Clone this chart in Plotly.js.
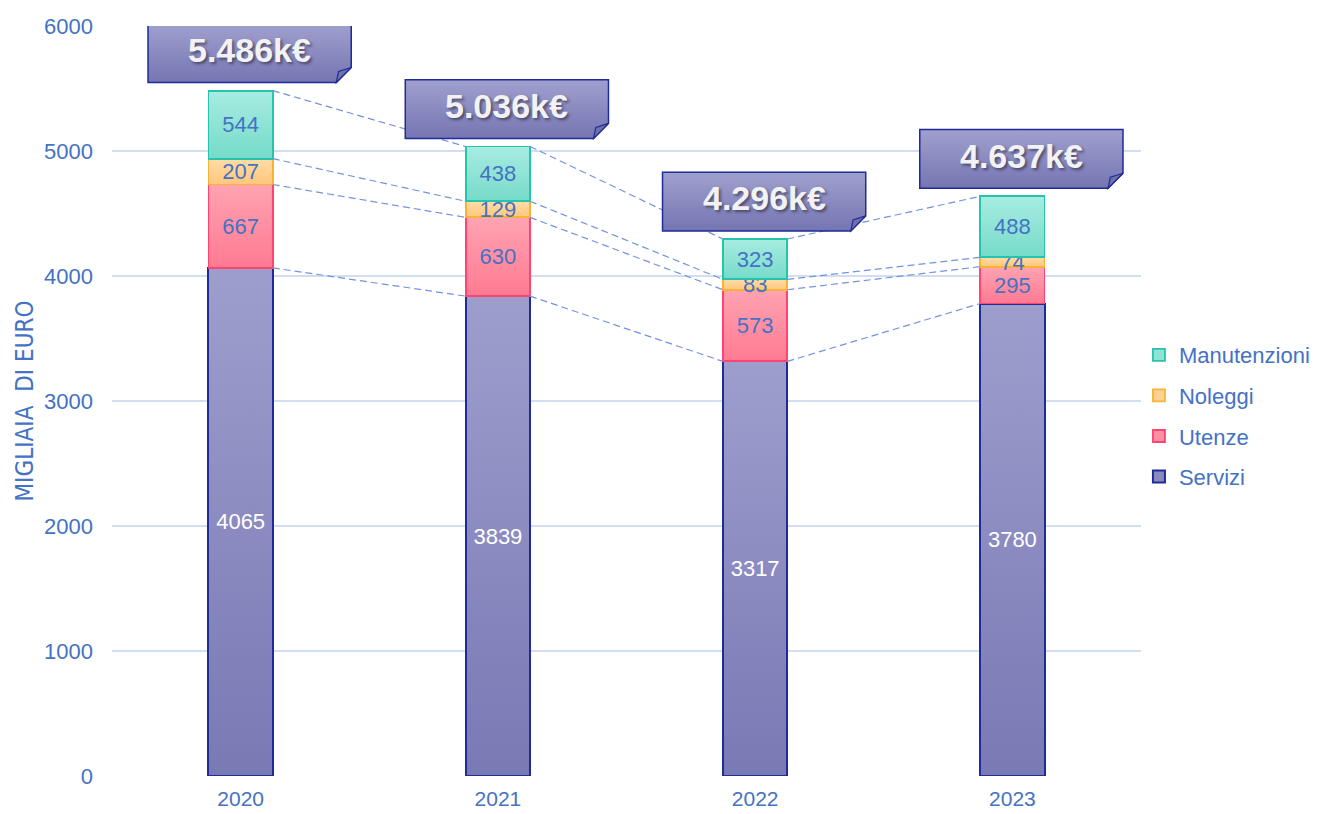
<!DOCTYPE html>
<html><head><meta charset="utf-8">
<script src="https://cdn.plot.ly/plotly-3.0.1.min.js"></script>
<style>body{margin:0;background:#fff}#chart{width:1329px;height:814px}</style>
</head><body><div id="chart"></div>
<script>
// ---- data ----
const years = [2020, 2021, 2022, 2023];
const servizi = [4065, 3839, 3317, 3780];
const utenze = [667, 630, 573, 295];
const noleggi = [207, 129, 83, 74];
const manutenzioni = [544, 438, 323, 488];
const totalLabels = ['5.486k€', '5.036k€', '4.296k€', '4.637k€'];
const seriesNames = ['Servizi', 'Utenze', 'Noleggi', 'Manutenzioni'];

// ---- styles ----
const BLUE = '#4472c4';
const FONT = 'Liberation Sans, Arial, sans-serif';
const barW = 0.25;
const styles = [
  {top:'#9e9ecd', bot:'#7979b5', line:'#1f2b96', mid:'#8a8ac1', txt:'#ffffff', lw:2},
  {top:'#ffa3b2', bot:'#ff7a92', line:'#ff4470', mid:'#ff8ea2', txt:BLUE, lw:1.8},
  {top:'#ffdca8', bot:'#ffc77c', line:'#f8b334', mid:'#ffd192', txt:BLUE, lw:1.8},
  {top:'#a7ece1', bot:'#76dbc9', line:'#26c4ad', mid:'#8fe3d5', txt:BLUE, lw:1.8}
];
const seriesVals = [servizi, utenze, noleggi, manutenzioni];

const data = seriesVals.map((vals, k) => ({
  type: 'bar', x: years, y: vals, name: seriesNames[k], width: barW,
  legendgroup: 'g' + k, legendrank: 4 - k,
  text: vals.map(String), textposition: 'inside', insidetextanchor: 'middle', textangle: 0,
  textfont: {family: FONT, size: 22, color: styles[k].txt},
  marker: {color: styles[k].mid, line: {color: styles[k].line, width: styles[k].lw}},
  hoverinfo: 'skip'
}));

// cumulative levels
const cum = years.map((_, i) => {
  let s = 0; return seriesVals.map(v => (s += v[i]));
});
const totals = cum.map(c => c[3]);

const shapes = [];
for (let i = 0; i < years.length - 1; i++) {
  for (let k = 0; k < 4; k++) {
    shapes.push({type: 'line', xref: 'x', yref: 'y', layer: 'above',
      x0: years[i] + barW / 2, y0: cum[i][k], x1: years[i + 1] - barW / 2, y1: cum[i + 1][k],
      line: {color: '#7393de', width: 1.2, dash: '7px,4px'}});
  }
}
const boxStart = shapes.length;
const fx = 0.058, fy = 120;
const annotations = [];
years.forEach((yr, i) => {
  const x0 = yr - 0.36, x1 = yr + 0.43;
  const y0 = totals[i] + 65, y1 = y0 + 470;
  shapes.push({type: 'path', xref: 'x', yref: 'y', layer: 'above',
    path: `M${x0},${y0} L${x1 - fx},${y0} L${x1},${y0 + fy} L${x1},${y1} L${x0},${y1} Z`,
    fillcolor: '#8a8ac0', line: {color: '#1f2b96', width: 1.5}});
  shapes.push({type: 'path', xref: 'x', yref: 'y', layer: 'above',
    path: `M${x1 - fx},${y0} L${x1},${y0 + fy} L${x1 - fx * 0.85},${y0 + fy * 0.73} Z`,
    fillcolor: '#7070ab', line: {color: '#1f2b96', width: 1.2}});
  annotations.push({xref: 'x', yref: 'y', x: (x0 + x1) / 2, y: (y0 + y1) / 2 + 25,
    text: '<b>' + totalLabels[i] + '</b>', showarrow: false,
    font: {family: FONT, size: 34, color: '#f2f2f4', shadow: '2px 2px 3px rgba(0,0,0,0.45)'}});
});
annotations.push({xref: 'paper', yref: 'paper', x: -0.085, y: 0.5, textangle: -90,
  text: 'MIGLIAIA\u00a0\u00a0DI EURO', showarrow: false, xanchor: 'center', yanchor: 'middle',
  font: {family: 'Liberation Sans Narrow, Arial Narrow, DejaVu Sans Condensed, sans-serif', size: 24, color: BLUE}});

const layout = {
  width: 1329, height: 814,
  margin: {l: 112, r: 188, t: 26, b: 38},
  paper_bgcolor: '#ffffff', plot_bgcolor: '#ffffff',
  barmode: 'stack', showlegend: true,
  uniformtext: {mode: 'show', minsize: 22},
  font: {family: FONT, color: BLUE, size: 22},
  xaxis: {range: [2019.5, 2023.5], tickvals: years, ticktext: years.map(String), showgrid: false,
    zeroline: false, showline: false, ticks: '', tickfont: {size: 21, color: BLUE}, ticklabelstandoff: 8, fixedrange: true},
  yaxis: {range: [0, 6000], dtick: 1000, gridcolor: '#d3def2', gridwidth: 1.3, zeroline: false,
    showline: false, tickfont: {size: 22, color: BLUE}, ticks: '', ticklabelstandoff: 18, fixedrange: true},
  legend: {x: 0.998, xanchor: 'left', y: 0.48, yanchor: 'middle', traceorder: 'grouped',
    tracegroupgap: 9, itemwidth: 30, font: {size: 22, color: BLUE, family: FONT}, bgcolor: 'rgba(0,0,0,0)'},
  shapes: shapes, annotations: annotations
};

Plotly.newPlot('chart', data, layout, {displayModeBar: false, staticPlot: true}).then(gd => {
  const ns = 'http://www.w3.org/2000/svg';
  const svg = gd.querySelector('.main-svg');
  let defs = svg.querySelector('defs');
  if (!defs) { defs = document.createElementNS(ns, 'defs'); svg.insertBefore(defs, svg.firstChild); }
  function grad(id, top, bot) {
    const g = document.createElementNS(ns, 'linearGradient');
    g.setAttribute('id', id);
    g.setAttribute('x1', '0'); g.setAttribute('y1', '0'); g.setAttribute('x2', '0'); g.setAttribute('y2', '1');
    [['0', top], ['1', bot]].forEach(([o, c]) => {
      const s = document.createElementNS(ns, 'stop');
      s.setAttribute('offset', o); s.setAttribute('stop-color', c); g.appendChild(s);
    });
    defs.appendChild(g);
  }
  styles.forEach((s, k) => grad('gbar' + k, s.top, s.bot));
  grad('gbox', '#a0a0ce', '#7575b3');
  gd.querySelectorAll('.barlayer .trace').forEach((tr, k) => {
    tr.querySelectorAll('.point path').forEach(p => { p.style.fill = `url(#gbar${k})`; });
  });
  gd.querySelectorAll('.shapelayer path').forEach(p => {
    const idx = +p.getAttribute('data-index');
    if (idx >= boxStart && (idx - boxStart) % 2 === 0) p.style.fill = 'url(#gbox)';
  });
});
</script>
</body></html>
